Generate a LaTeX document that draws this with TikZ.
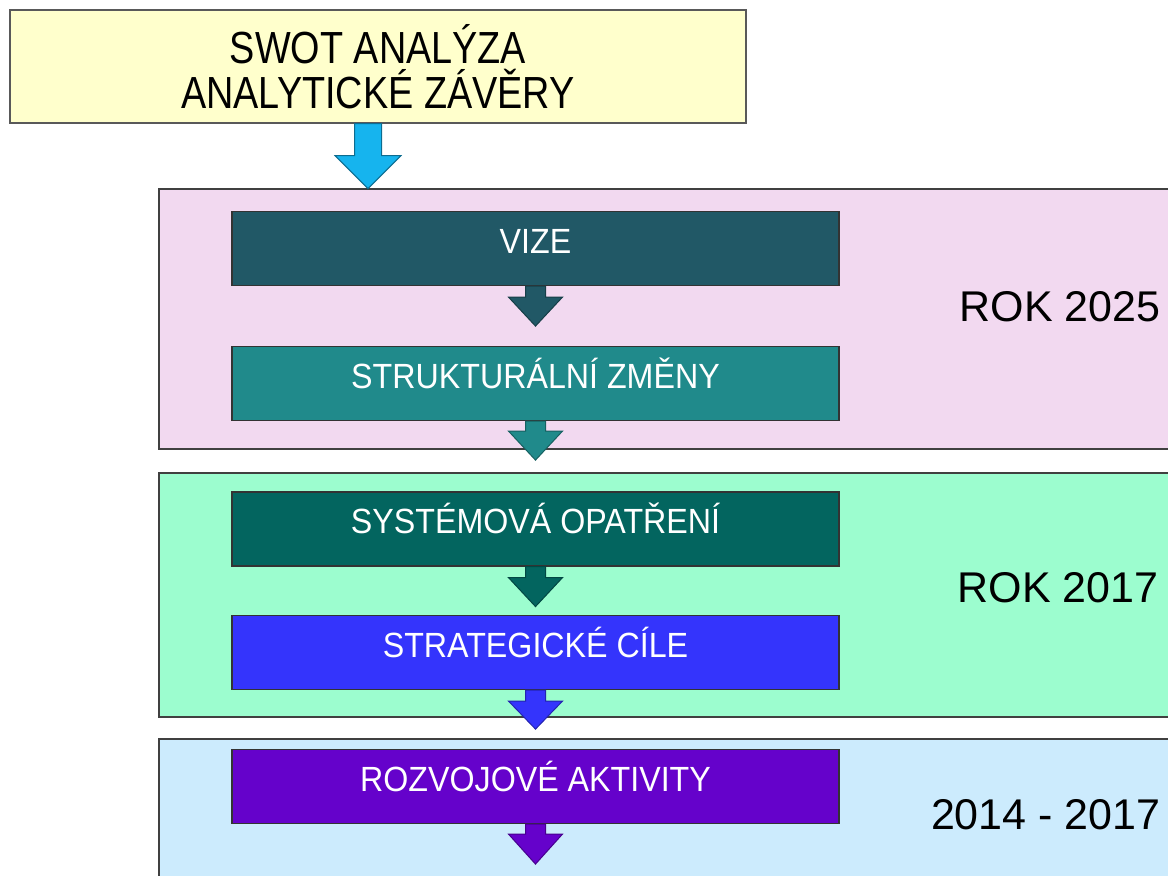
\documentclass[tikz,border=0pt]{standalone}
\usepackage{fontspec}
\setmainfont{Liberation Sans}
\newfontfamily\headfont[FakeStretch=0.84]{Liberation Sans}
\newfontfamily\stagefont[FakeStretch=0.92]{Liberation Sans}
\usetikzlibrary{positioning}
\definecolor{swotyellow}{HTML}{FFFFCC}
\definecolor{swotcyan}{HTML}{16B4EE}
\definecolor{bandpink}{HTML}{F2D9F0}
\definecolor{bandmint}{HTML}{9CFDCF}
\definecolor{bandsky}{HTML}{CCEBFD}
\definecolor{vizeteal}{HTML}{215866}
\definecolor{zmenyteal}{HTML}{208A8B}
\definecolor{opatrteal}{HTML}{03655F}
\definecolor{cileblue}{HTML}{3434FC}
\definecolor{aktivpurple}{HTML}{6502CB}
\tikzset{band/.style={draw=black!75, line width=1pt, rectangle, inner sep=0pt, anchor=north west, minimum width=520pt}, stagebox/.style={draw=black!80, line width=0.6pt, rectangle, minimum width=303.5pt, minimum height=37pt, inner sep=0pt, text=white, font=\stagefont\fontsize{17.5}{20}\selectfont, text height=12.5pt, text depth=7.8pt}, yearlabel/.style={anchor=east, inner sep=0pt, font=\fontsize{21.5}{24}\selectfont}, pics/downarrow/.style n args={4}{code={\path[pic actions] (-#1,0) -- (-#1,#2) -- (-#3,#2) -- (0,#2+#4) -- (#3,#2) -- (#1,#2) -- (#1,0) -- cycle;}}}

\begin{document}
\begin{tikzpicture}[x=0.5pt,y=-0.5pt]
\useasboundingbox (0,0) rectangle (1168,876);
\clip (0,0) rectangle (1168,876);
% time bands
\node[band, fill=bandpink, minimum height=130pt] (band2025) at (158,188) {};
\node[band, fill=bandmint, minimum height=122pt] (band2017) at (158,472) {};
\node[band, fill=bandsky, minimum height=80pt] (band2014) at (158,738) {};
\node[yearlabel] (rok2025) at (1161,307) {ROK 2025};
\node[yearlabel] (rok2017) at (1159,588) {ROK 2017};
\node[yearlabel] (rok2014) at (1161,815) {2014 - 2017};
% analysis
\node[draw=black!65, line width=0.7pt, fill=swotyellow, minimum width=368pt, minimum height=56.5pt, align=center, font=\headfont\fontsize{22.5}{22.5}\selectfont] (swot) at (378,66.5) {SWOT ANALÝZA\\ANALYTICKÉ ZÁVĚRY};
% stages
\node[stagebox, fill=vizeteal] (vize) at (535.5,248.5) {VIZE};
\node[stagebox, fill=zmenyteal] (zmeny) at (535.5,383.5) {STRUKTURÁLNÍ ZMĚNY};
\node[stagebox, fill=opatrteal] (opatreni) at (535.5,529) {SYSTÉMOVÁ OPATŘENÍ};
\node[stagebox, fill=cileblue] (cile) at (535.5,652.5) {STRATEGICKÉ CÍLE};
\node[stagebox, fill=aktivpurple] (aktivity) at (535.5,786.5) {ROZVOJOVÉ AKTIVITY};
% block arrows
\pic[fill=swotcyan, draw=swotcyan!60!black, line width=0.5pt] at ([xshift=-5pt]swot.south) {downarrow={13.5}{32}{33}{33}};
\pic[fill=vizeteal, draw=vizeteal!70!black, line width=0.5pt] at (vize.south) {downarrow={10}{11}{27}{29}};
\pic[fill=zmenyteal, draw=zmenyteal!70!black, line width=0.5pt] at (zmeny.south) {downarrow={10}{10}{27}{29}};
\pic[fill=opatrteal, draw=opatrteal!70!black, line width=0.5pt] at (opatreni.south) {downarrow={10}{11}{27}{29}};
\pic[fill=cileblue, draw=cileblue!70!black, line width=0.5pt] at (cile.south) {downarrow={10}{11}{27}{28}};
\pic[fill=aktivpurple, draw=aktivpurple!70!black, line width=0.5pt] at (aktivity.south) {downarrow={10}{10}{27}{30}};
\end{tikzpicture}
\end{document}
